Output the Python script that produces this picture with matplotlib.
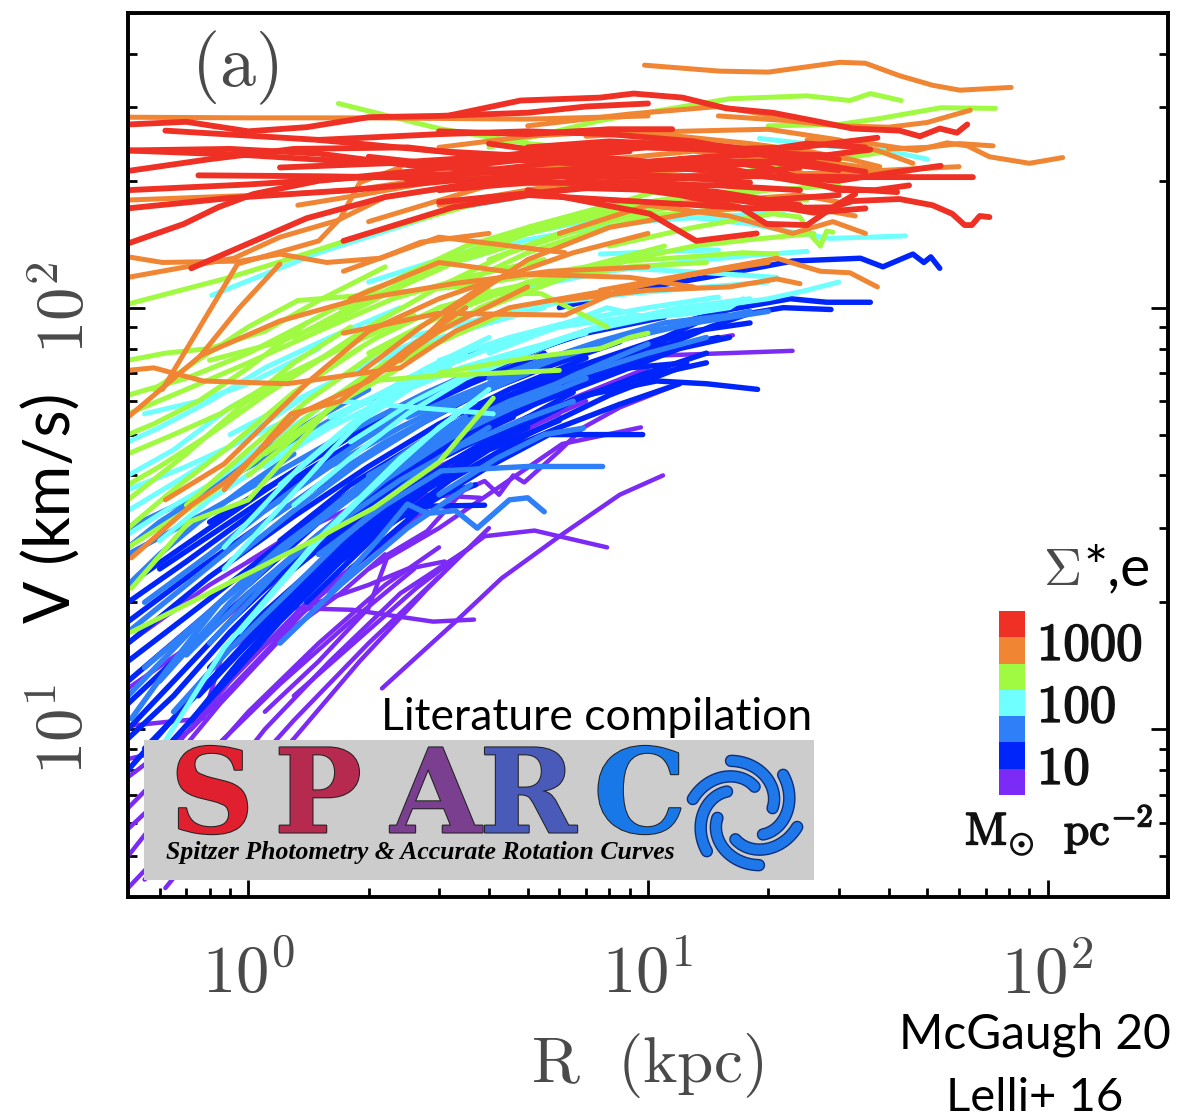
#!/usr/bin/env python3

import numpy as np
import matplotlib
from matplotlib import pyplot as plt
from matplotlib import patheffects as pe
from matplotlib.colors import ListedColormap

matplotlib.use("Agg")

plt.rcParams["mathtext.fontset"] = "cm"

# rotation curves: (R in kpc, V in km/s), one list per surface density bin
PURPLE_CURVES = [
    ([2.16, 3.3, 4.3, 6.1, 8.5, 10.9], [12.5, 18, 22.8, 29, 36, 40]),
    ([1.3, 2.63, 3.9, 5.2, 7.9], [12, 21.6, 28.7, 29.6, 27]),
    ([0.9, 1.23, 1.82, 2.9, 3.67], [17, 19.4, 19.2, 18, 18.2]),
    ([0.95, 1.45, 2, 2.5, 3.1], [14, 19.8, 22, 24, 25]),
    ([1.1, 1.5, 2, 2.24, 2.8, 3.45, 3.9, 4.24, 4.6, 4.9, 6, 6.9, 8.5, 11.5],
     [11, 14.5, 19.4, 26, 29.5, 36.8, 38.8, 36, 40, 38.5, 45.7, 52, 58, 65]),
    ([2, 3, 4.5, 6.1, 9.6], [24, 30, 39, 47.5, 52]),
    ([5, 7, 10.7, 23], [60, 70, 77, 79]),
    ([6, 10, 13, 16.3], [62, 76, 83, 86]),
    ([1.8, 2.75, 3.8], [26, 36, 35.4]),
    ([0.5, 0.7, 1, 1.5, 2.2, 3], [5, 7.5, 11, 16, 22, 27]),
    ([0.5, 0.75, 1.1, 1.6, 2.4, 3.6], [4.2, 6.3, 10, 14.5, 21, 27]),
    ([0.5, 0.8, 1.2, 1.8, 2.6], [5.8, 8.8, 12.8, 18, 24]),
    ([0.55, 0.85, 1.3, 2, 3], [4.4, 6.7, 10.5, 16, 23]),
    ([0.5, 0.62, 0.85, 1.25, 1.7, 2.2], [6.5, 8, 11.5, 17, 21, 26]),
    ([0.5, 0.72, 1.05, 1.45, 2], [7.7, 10, 14.5, 20, 26]),
    ([0.5, 0.65, 0.9, 1.4, 2, 2.8], [8.5, 9, 13, 20, 26, 33]),
    ([0.62, 0.9, 1.3, 1.9, 2.8, 4], [4.2, 6.5, 9.5, 14.5, 21.5, 30]),
    ([0.51, 0.62, 0.77, 0.86, 1.2], [10.2, 10.4, 10.6, 15, 19]),
    ([0.5, 0.8, 1.3, 2, 3, 4.5, 7], [16, 22, 29, 35, 42, 50, 60]),
    ([0.5, 0.8, 1.2, 2, 3.5, 6], [12.5, 17, 24, 32, 44, 56]),
    ([0.7, 1, 1.5, 2.5, 4, 6.5, 10], [14, 20, 27, 36, 47, 61, 72]),
    ([1, 1.6, 2.6, 4, 7, 12], [25, 33, 44, 55, 70, 80]),
]

BLUE_CURVES = [
    ([6, 9, 14, 23, 34, 38.7, 46, 49, 51, 53.7], [100, 110, 118, 129, 131, 125, 134, 128, 132, 124]),
    ([12, 16, 22.7, 28, 36], [92, 99, 105, 103, 103]),
    ([4, 7, 10, 14.3, 18, 21.8, 28.7], [55, 68, 78, 90, 97, 100, 99]),
    ([3, 6, 11, 16], [50, 70, 85, 100]),
    ([3, 5, 7.6, 12.5], [48, 60, 71, 74]),
    ([4, 7, 10.5, 14, 18.8], [50, 62, 67, 66, 64]),
    ([2.5, 4, 5.65, 9.7], [32, 42, 50, 50]),
    ([1.8, 2.75, 3.9], [24, 33.8, 34]),
    ([0.5, 0.75, 1.1, 1.6, 2.3, 3.3], [10, 15, 22, 30, 39, 46]),
    ([0.5, 0.7, 1, 1.5, 2.2, 3.2, 4.6], [11.5, 15.5, 21, 29, 38, 47, 55]),
    ([0.5, 0.8, 1.2, 1.8, 2.8, 4.2], [13, 19, 27, 36, 47, 58]),
    ([0.5, 0.7, 1, 1.4, 2, 3, 4.4, 6.5], [14.5, 18.5, 24, 31, 39, 50, 60, 70]),
    ([0.5, 0.8, 1.3, 2, 3, 4.5, 7], [16, 23, 32, 42, 53, 64, 76]),
    ([0.5, 0.75, 1.1, 1.7, 2.5, 3.7, 5.5, 8.5], [18, 24, 31, 41, 51, 62, 72, 83]),
    ([0.5, 0.7, 1, 1.6, 2.4, 3.6, 5.5], [20, 25, 32, 44, 55, 66, 78]),
    ([0.5, 0.8, 1.2, 1.9, 3, 4.5, 7, 11], [22, 30, 39, 51, 63, 75, 88, 96]),
    ([0.6, 0.9, 1.4, 2.2, 3.4, 5, 8, 13], [24, 31, 41, 53, 66, 78, 92, 100]),
    ([0.8, 1.2, 1.8, 2.8, 4.5, 7, 11], [31, 39, 50, 62, 76, 87, 95]),
    ([0.9, 1.4, 2.2, 3.4, 5, 8], [21, 30, 41, 52, 61, 72]),
    ([0.75, 1, 1.4, 2, 2.8, 3.8, 5], [12, 16, 22, 30, 38, 46, 52]),
    ([0.62, 0.85, 1.2, 1.7, 2.3, 3, 3.7], [9, 12.5, 18, 25, 31, 36, 38]),
    ([0.55, 0.8, 1.1, 1.5, 2, 2.7], [9, 13, 18, 24, 29, 34]),
    ([0.8, 1.1, 1.6, 2.3, 3.2, 4.5, 6.5], [14, 19, 26, 34, 43, 52, 63]),
    ([1, 1.5, 2.2, 3.3, 5, 7.5, 11], [22, 31, 41, 52, 64, 73, 82]),
    ([1.2, 1.8, 2.7, 4, 6, 9, 13, 18], [28, 38, 48, 59, 70, 79, 88, 92]),
    ([1.5, 2.2, 3.2, 4.6, 6.5, 9.5, 14], [26, 34, 43, 51, 60, 69, 78]),
    ([1.1, 1.5, 2, 2.8, 4, 6], [17, 23, 29, 37, 46, 54]),
    ([2, 3, 4.5, 6.5, 9, 12, 16], [38, 47, 56, 64, 72, 80, 85]),
    ([2.5, 3.5, 5, 7, 10, 14], [40, 47, 55, 62, 69, 74]),
    ([3, 4.2, 6, 8.5, 12], [38, 45, 52, 59, 66]),
    ([0.72, 0.95, 1.3, 1.8], [10.5, 14.5, 20, 27]),
    ([1.48, 1.79], [24, 28]),
    ([0.5, 0.7, 1, 1.4], [8, 11.5, 16, 22]),
    ([0.5, 0.65, 0.9, 1.3, 1.9, 2.8], [9.5, 12, 17, 24, 32, 41]),
    ([0.9, 1.3, 2, 3, 4.5, 7, 10], [18, 25, 35, 46, 56, 68, 75]),
    ([1.3, 2, 3, 4.5, 7, 11, 15], [24, 34, 44, 55, 68, 80, 85]),
    ([1.4, 2.1, 3.2, 5, 8, 12], [20, 29, 39, 50, 62, 72]),
]

MIDBLUE_CURVES = [
    ([0.5, 0.8, 1.3, 2, 3, 4.6, 7], [12, 19, 28, 38, 48, 58, 68]),
    ([0.5, 0.7, 1, 1.5, 2.2, 3.3, 5], [17, 22, 29, 38, 48, 59, 70]),
    ([0.5, 0.8, 1.2, 1.8, 2.8, 4.4, 7, 11], [26, 33, 41, 51, 63, 76, 88, 96]),
    ([0.5, 0.75, 1.1, 1.6, 2.4, 3.6, 5.4], [30, 36, 44, 54, 66, 78, 88]),
    ([0.6, 0.9, 1.3, 1.9, 2.8, 4, 6], [13, 20, 28, 37, 47, 56, 66]),
    ([0.7, 1, 1.5, 2.2, 3.2, 4.5, 6.5, 10], [15, 21, 29, 39, 49, 58, 69, 82]),
    ([0.9, 1.3, 1.9, 2.8, 4, 5.5], [25, 33, 43, 54, 65, 74]),
    ([1.1, 1.6, 2.4, 3.5, 5, 7.5, 11, 16], [33, 42, 52, 62, 73, 83, 92, 96]),
    ([1.5, 2.2, 3.04, 5, 7.7], [26, 34, 41, 42, 42]),
    ([1.6, 2.1, 2.5, 2.8, 3.3, 3.74, 4.5, 5, 5.5], [21, 28, 34.2, 32.5, 33, 30, 35, 35.4, 32.8]),
    ([3, 4.2, 5.5, 6.9], [36, 44, 50, 51.8]),
    ([0.51, 0.62, 0.85, 1.2, 1.8], [10.6, 13.7, 20, 27, 36]),
    ([0.8, 1.2, 1.7], [16, 24, 32]),
    ([2, 3, 4.5, 7, 10, 14], [40, 50, 60, 70, 78, 85]),
    ([2.5, 4, 6, 9, 13, 20], [55, 66, 76, 86, 92, 98]),
    ([4, 6, 9, 13, 18], [68, 77, 85, 92, 98]),
    ([1.6, 2.4, 3.4, 4.8, 6.5], [30, 39, 47, 54, 60]),
    ([1.2, 1.7, 2.5, 3.6], [16, 22, 30, 38]),
    ([0.55, 0.8, 1.1, 1.6, 2.3, 3.2], [20, 26, 33, 43, 54, 65]),
    ([0.55, 0.75, 1, 1.4, 1.9, 2.6, 3.5], [14, 18, 23, 30, 38, 47, 55]),
    ([0.65, 0.9, 1.25, 1.7, 2.3, 3, 4], [11, 15.5, 21, 28, 36, 44, 52]),
    ([0.5, 0.6, 0.75, 1, 1.3], [22, 26, 31, 38, 45]),
    ([0.5, 0.6, 0.8, 1.1, 1.5, 2], [27, 31, 37, 46, 55, 64]),
]

CYAN_CURVES = [
    ([0.62, 0.87, 1.48, 2.4, 4], [9.4, 15.6, 28, 44, 64]),
    ([0.87, 1.34, 2.15, 3.2], [27, 41.7, 61, 72]),
    ([0.87, 1.64, 2.4, 3.5], [24, 46.5, 67, 78]),
    ([1.7, 2.6, 4.1], [60, 58, 56]),
    ([0.81, 1.5, 3.3, 6], [107, 135, 172, 190]),
    ([12, 18, 24, 28.5, 36, 44], [165, 158, 150, 146, 147, 148]),
    ([19, 28, 39.5, 50], [252, 242, 236, 225]),
    ([7, 12, 20, 25, 30], [88, 98, 105, 110, 115]),
    ([4, 7.9, 10, 13, 16, 17.3], [78, 100, 94.7, 97, 100, 105]),
    ([7.6, 11, 15], [134, 136, 137]),
    ([8.9, 14, 21], [124, 121, 118]),
    ([0.5, 0.7, 1, 1.4, 2, 3], [33, 40, 50, 62, 74, 88]),
    ([0.5, 0.65, 0.9, 1.3, 1.9], [40, 46, 58, 70, 85]),
    ([0.5, 0.6, 0.8, 1.1, 1.6, 2.4], [48, 52, 60, 72, 85, 100]),
    ([0.55, 0.75, 1, 1.5], [56, 60, 66, 80]),
    ([0.6, 0.8, 1.2, 1.8, 2.8, 4], [28, 35, 45, 57, 72, 85]),
    ([3, 4.5, 6.5, 10, 15], [75, 85, 93, 100, 106]),
    ([2.5, 4, 6, 9, 14, 20], [85, 95, 103, 108, 112, 115]),
    ([1.6, 2.5, 4, 6, 9], [55, 67, 80, 90, 95]),
    ([5, 8, 12, 18, 25], [112, 122, 128, 133, 136]),
    ([3.5, 5, 7.5, 11, 16, 22], [130, 145, 155, 162, 165, 170]),
    ([2, 3, 5, 8, 12], [115, 130, 150, 165, 175]),
    ([0.9, 1.3, 1.9, 2.8, 4, 5.5], [50, 60, 72, 83, 92, 100]),
    ([1.1, 1.6, 2.4, 3.4, 5, 7], [42, 52, 63, 72, 80, 87]),
    ([0.5, 0.62, 0.8, 1.05, 1.4, 2], [29, 33, 38, 46, 55, 70]),
    ([0.5, 0.7, 0.95, 1.3], [37, 42, 48, 55]),
    ([1.3, 1.8, 2.5, 3.5, 5, 7.5, 11], [34, 44, 56, 68, 78, 90, 98]),
    ([1.8, 2.6, 3.8, 5.5, 8, 12, 18], [48, 60, 72, 82, 92, 100, 105]),
    ([0.95, 1.2, 1.5, 1.9, 2.4, 3, 3.7], [17, 22, 28, 35, 43, 52, 60]),
    ([1.2, 1.7, 2.4, 3.2], [38, 50, 62, 74]),
]

GREEN_CURVES = [
    ([1.68, 3, 5, 8], [305, 266, 245, 235]),
    ([4, 5.5, 7.6, 16, 25, 32, 36, 43], [240, 258, 278, 313, 318, 310, 322, 310]),
    ([20, 30, 38, 54, 74], [270, 272, 281, 298, 297]),
    ([8, 13, 20.5, 24, 25.8, 27, 28, 29], [140, 155, 167, 164, 147, 140, 152, 151]),
    ([3, 5, 8.9, 12.7, 17.3, 21], [95, 115, 129, 132, 135, 134]),
    ([0.5, 0.9, 1.35, 2, 4, 7, 11], [102, 118, 133, 150, 180, 195, 205]),
    ([0.58, 1, 1.33, 2.2, 3.6, 7, 11], [64, 90, 104, 108, 113, 125, 140]),
    ([2, 3, 6], [67, 69, 71]),
    ([0.51, 1.45, 2.06, 3, 4.1], [17, 28, 33.5, 43, 61]),
    ([0.51, 0.71, 1, 1.6, 2.4], [21.6, 31, 35, 58, 72]),
    ([0.5, 0.7, 1, 1.5, 2.2, 3.2], [27, 33, 42, 58, 74, 85]),
    ([0.5, 0.65, 0.85, 1.2, 1.8, 2.6], [45, 50, 56, 68, 82, 96]),
    ([0.5, 0.7, 1, 1.5, 2.3, 3.5, 5.5], [56, 64, 74, 88, 105, 118, 130]),
    ([0.5, 0.7, 1, 1.4, 2, 3, 4.5], [62, 68, 78, 92, 110, 125, 140]),
    ([0.5, 0.62, 0.8, 1.1, 1.5, 2.2], [75, 78, 80, 88, 104, 125]),
    ([0.8, 1.2, 1.7, 2.4, 3.4, 5], [75, 83, 95, 112, 130, 150]),
    ([1, 1.4, 2, 3, 4.5, 7, 10], [60, 72, 90, 112, 135, 155, 170]),
    ([1.3, 1.8, 2.6, 3.8, 5.5, 8, 12], [85, 100, 118, 138, 155, 170, 180]),
    ([1.7, 2.4, 3.5, 5, 7.5, 11, 16], [100, 118, 140, 155, 172, 180, 188]),
    ([2.5, 3.5, 5, 7.5, 12, 18, 25], [115, 135, 150, 165, 175, 180, 180]),
    ([1.1, 1.5, 2.2, 3.2, 4.5], [45, 55, 72, 85, 98]),
    ([3, 4.5, 6.5, 9, 13, 18, 26], [90, 105, 120, 130, 140, 145, 150]),
    ([4, 6, 9, 13, 20, 30], [130, 150, 165, 178, 190, 195]),
    ([5, 8, 13, 20, 30, 40], [155, 175, 200, 215, 225, 235]),
    ([3, 4.2, 5.4, 7.9], [100, 108, 108, 90]),
    ([3, 5, 7.6, 9, 10], [70, 76, 80, 85, 87]),
    ([0.5, 0.65, 0.9, 1.3, 1.9], [30, 37, 47, 63, 80]),
    ([0.5, 0.6, 0.8, 1.1, 1.5, 2.1], [38, 42, 50, 62, 75, 90]),
    ([0.5, 0.7, 0.95, 1.3, 1.8], [35, 45, 58, 74, 90]),
    ([0.5, 0.58, 0.75, 1, 1.4], [50, 53, 60, 72, 92]),
    ([0.7, 1, 1.4, 2, 2.8, 4], [34, 46, 60, 76, 92, 110]),
    ([1, 1.4, 2, 2.8, 3.8, 5], [40, 52, 68, 84, 100, 112]),
    ([1.5, 2.1, 3, 4.2, 6, 8.5], [70, 85, 100, 110, 118, 125]),
    ([2, 2.8, 4, 6, 9, 14], [78, 92, 108, 118, 125, 128]),
    ([2.8, 4, 5.5, 8, 12, 18], [125, 142, 158, 172, 183, 190]),
    ([3.5, 5, 7, 10, 14, 20], [115, 135, 150, 165, 170, 172]),
]

ORANGE_CURVES = [
    ([9.8, 15.1, 20, 30.2, 35, 42.6, 51.5, 60.3, 81], [376, 364, 362, 382, 380, 355, 337, 328, 333]),
    ([25, 36, 47, 56, 63, 71.5, 90, 109], [250, 245, 236, 246, 242, 228, 220, 227]),
    ([15, 22, 30, 40, 50, 57, 64], [285, 278, 270, 268, 275, 285, 294]),
    ([40, 50, 60, 73], [238, 240, 245, 242]),
    ([15, 25, 40, 60], [205, 208, 212, 216]),
    ([10, 16, 23, 29, 35], [175, 165, 150, 160, 150]),
    ([7.6, 14, 21, 27, 32, 37.5], [110, 122, 131, 122, 121, 112]),
    ([6, 10, 16, 21, 24], [104, 110, 112, 117, 114]),
    ([0.5, 0.61, 0.96, 1.2, 1.57, 2.14, 2.7, 4], [132, 128, 129, 134, 128, 131, 143, 150]),
    ([0.5, 0.92, 1.2, 1.67, 2.2, 3.5], [118, 131, 147, 161, 183, 195]),
    ([0.61, 0.94, 1.5, 1.7, 1.9, 2.4], [64, 127, 144, 163, 198, 215]),
    ([0.76, 1.2, 1.83, 3.25, 5.7, 10], [77, 93, 104, 114, 122, 125]),
    ([0.5, 0.58, 0.77, 1.25, 2.4, 3.3, 4.5, 8], [71, 72, 67, 66, 72, 88, 100, 110]),
    ([0.5, 1, 2, 5, 10], [283, 282, 282, 280, 285]),
    ([0.5, 1.25, 1.83, 4, 8], [180, 186, 190, 212, 220]),
    ([1.33, 1.9, 3, 5], [175, 185, 200, 215]),
    ([0.51, 0.72, 0.89, 1.34, 2, 3, 5], [25.5, 34, 39, 56, 67, 88, 112]),
    ([0.62, 0.87, 1.42, 2, 3, 4.5], [35, 42.6, 67, 88, 105, 120]),
    ([0.87, 1.28, 1.7, 2.5, 3.5], [37, 56, 60, 80, 100]),
    ([0.5, 0.76, 0.95, 1.2], [55, 77, 100, 127]),
    ([1.73, 3, 6.2], [122, 147, 135]),
    ([1.73, 3, 6.2, 8.5, 13, 20], [87, 97, 96, 110, 120, 128]),
    ([1.8, 3, 5, 9, 13], [105, 128, 120, 118, 112]),
    ([1.9, 2.7, 4, 6.5, 10], [70, 90, 115, 135, 150]),
    ([2.4, 3.3, 5, 8, 13, 20], [75, 100, 130, 155, 168, 175]),
    ([3, 5, 8, 14, 25, 35, 45], [175, 190, 205, 215, 225, 215, 205]),
    ([3, 5, 8, 12, 18, 25, 32, 38], [240, 255, 262, 255, 245, 235, 225, 216]),
    ([4, 7, 11, 18, 26, 33], [196, 198, 190, 180, 172, 165]),
    ([6, 10, 16, 24, 30], [150, 175, 180, 185, 178]),
    ([7, 12, 20, 30, 38, 46], [255, 262, 265, 250, 235, 220]),
    ([5, 9, 15, 22, 28], [270, 288, 300, 282, 272]),
    ([2, 4, 8, 13, 20, 27], [160, 195, 225, 235, 225, 200]),
]

RED_CURVES = [
    ([0.5, 0.7, 1, 1.4, 2, 3, 5, 7, 10], [272, 276, 262, 268, 283, 285, 290, 300, 305]),
    ([3.2, 4.8, 7.6, 9.2, 12.2, 15.7, 20.5, 25.8, 32.5, 42.6, 47.9, 53.7, 59.3, 62.9],
     [286, 310, 315, 322, 315, 297, 290, 278, 266, 263, 255, 266, 260, 272]),
    ([5, 10, 18, 29, 32.5, 42.6, 51.5, 57.7, 62, 64.6, 67.6, 71.5],
     [185, 178, 172, 173, 179, 181, 175, 167, 157, 157, 165, 164]),
    ([5, 10.1, 13.2, 18.7], [190, 167, 144, 150]),
    ([8, 12, 17, 19.8, 25, 29, 33], [195, 185, 173, 158, 157, 173, 186]),
    ([10, 20, 35, 50, 65], [205, 205, 204, 204, 204]),
    ([12, 20, 30, 42, 54], [225, 205, 200, 210, 217]),
    ([14, 20, 25, 30, 37, 45], [225, 215, 200, 190, 190, 195]),
    ([10, 16, 24, 37.5], [240, 238, 240, 253]),
    ([12, 20, 28, 36], [225, 232, 230, 237]),
    ([3, 5, 8, 11.5], [262, 258, 265, 265]),
    ([0.5, 0.69, 0.84, 1.03, 1.5, 2.5, 5, 9], [142, 158, 173, 186, 200, 210, 225, 235]),
    ([0.72, 1.4, 2.2, 3.5, 6, 10], [124, 163, 183, 196, 205, 210]),
    ([1.73, 3.25, 6, 10, 15], [144, 173, 190, 200, 205]),
    ([0.62, 1.5, 3, 7, 15, 25], [263, 250, 235, 225, 210, 200]),
    ([0.75, 1.5, 3, 6, 15, 24], [206, 205, 203, 198, 195, 190]),
    ([0.5, 0.9, 1.5, 2.5, 4.5, 8, 14, 24], [236, 238, 232, 218, 210, 204, 205, 215]),
    ([0.5, 0.8, 1.3, 2.5, 4.5, 9, 16], [211, 225, 238, 240, 225, 215, 212]),
    ([0.5, 1, 1.8, 3, 6, 12, 20, 30], [190, 196, 203, 207, 212, 222, 222, 212]),
    ([0.5, 0.9, 1.8, 3.2, 6, 11, 18], [172, 182, 190, 200, 208, 205, 198]),
    ([0.5, 1, 1.8, 3, 5.5, 10, 18, 30], [236, 230, 222, 218, 230, 240, 235, 215]),
    ([1.2, 2.2, 4, 7, 12, 20, 30], [215, 220, 228, 240, 248, 235, 225]),
    ([1.5, 3, 5, 8, 13, 22, 35], [250, 258, 262, 258, 248, 225, 210]),
    ([2, 3.5, 6, 10, 16, 26], [228, 215, 208, 212, 218, 225]),
    ([2.5, 4, 7, 12, 20, 30, 42], [200, 212, 225, 218, 205, 192, 188]),
    ([3, 5, 9, 15, 24], [190, 198, 198, 188, 175]),
    ([3, 4.5, 7, 11, 18, 26, 35], [178, 185, 192, 190, 178, 168, 172]),
    ([4, 6, 10, 16, 25, 35], [245, 232, 222, 230, 245, 240]),
    ([5, 8, 13, 20, 30], [212, 196, 188, 180, 185]),
    ([5, 8, 14, 22], [240, 248, 242, 230]),
]

CURVE_SETS = [PURPLE_CURVES, BLUE_CURVES, MIDBLUE_CURVES, CYAN_CURVES,
              GREEN_CURVES, ORANGE_CURVES, RED_CURVES]

# lowest to highest surface density
BIN_COLORS = ["#7B2BF5", "#0025FA", "#2F80F8", "#70FFFF", "#A0FA42", "#F08533", "#EE3124"]
LINE_WIDTHS = [3.2, 3.9, 3.9, 3.6, 3.6, 3.6, 4.2]

X_TICKS = [1, 10, 100]
X_TICK_LABELS = [r"$10^{0}$", r"$10^{1}$", r"$10^{2}$"]
Y_TICKS = [10, 100]
Y_TICK_LABELS = [r"$10^{1}$", r"$10^{2}$"]

CBAR_LABELS = ["1000", "100", "10"]
GRAY = "#4a4a4a"

W, H = 1178, 1118


def px(x, y):
    return x / W, 1 - y / H


fig = plt.figure(figsize=(W / 100, H / 100), dpi=100)
ax = fig.add_axes([128 / W, 1 - 897 / H, 1040 / W, 884 / H])

for curves, color, lw in zip(CURVE_SETS, BIN_COLORS, LINE_WIDTHS):
    for r, v in curves:
        ax.plot(r, v, color=color, lw=lw, solid_capstyle="round", solid_joinstyle="round")

ax.set_xscale("log")
ax.set_yscale("log")
ax.set_xlim(0.5, 200)
ax.set_ylim(4, 500)

ax.set_xticks(X_TICKS)
ax.set_xticklabels(X_TICK_LABELS, fontsize=48, color=GRAY)
ax.set_yticks(Y_TICKS)
ax.set_yticklabels(Y_TICK_LABELS, fontsize=48, color=GRAY, rotation=90, va="center")
ax.tick_params(which="major", direction="in", length=12, width=2, right=True)
ax.tick_params(axis="x", which="major", pad=32)
ax.tick_params(axis="y", which="major", pad=22)
ax.tick_params(which="minor", direction="in", length=6.5, width=2, right=True, labelleft=False, labelbottom=False)
for spine in ax.spines.values():
    spine.set_linewidth(2.8)

fig.text(*px(235, 68), r"$\mathrm{(a)}$", fontsize=52, color=GRAY, ha="center", va="center")
fig.text(*px(647, 1065), r"$\mathrm{R\ \ (kpc)}$", fontsize=47, color=GRAY, ha="center", va="center")
fig.text(*px(52, 508), "V (km/s)", fontsize=45, color="black", family="Lato", rotation=90, ha="center", va="center")
fig.text(*px(597, 718), "Literature compilation", fontsize=32, color="black", family="Lato", ha="center", va="center")
fig.text(*px(1035, 1035), "McGaugh 20", fontsize=34.5, color="black", family="Lato", ha="center", va="center")
fig.text(*px(1035, 1098), "Lelli+ 16", fontsize=34, color="black", family="Lato", ha="center", va="center")

# surface density key
fig.text(*px(1062, 570), r"$\Sigma$", fontsize=38, color=GRAY, ha="center", va="center")
fig.text(*px(1117, 570), "*,e", fontsize=41, color="black", family="Lato", ha="center", va="center")
cax = fig.add_axes([999 / W, 1 - 795 / H, 26 / W, 184 / H])
cax.imshow(np.arange(len(BIN_COLORS))[::-1].reshape(-1, 1), cmap=ListedColormap(BIN_COLORS), aspect="auto")
cax.axis("off")
bold = [pe.withStroke(linewidth=1.2, foreground="#111111")]
for label, y in zip(CBAR_LABELS, [645, 707, 769]):
    fig.text(*px(1037, y), rf"$\mathrm{{{label}}}$", fontsize=38, color="#111111", ha="left", va="center",
             path_effects=bold)
fig.text(*px(1059, 830), r"$\mathrm{M_{\odot}\ \ pc^{-2}}$", fontsize=33, color="#111111", ha="center", va="center",
         path_effects=bold)

# SPARC logo, axes units are picture pixels
logo = fig.add_axes([144 / W, 1 - 880 / H, 670 / W, 140 / H], zorder=2, facecolor="#cccccc")
logo.set_xlim(144, 814)
logo.set_ylim(880, 740)
logo.set_xticks([])
logo.set_yticks([])
for spine in logo.spines.values():
    spine.set_visible(False)

LOGO_LETTERS = ["S", "P", "A", "R", "C"]
LOGO_X = [212, 318, 436, 528, 640]
LOGO_COLORS = ["#E0202F", "#B62A50", "#7A3F8F", "#4A5AB8", "#1878E8"]
outline = [pe.withStroke(linewidth=1.5, foreground="#222222")]
for letter, x, color in zip(LOGO_LETTERS, LOGO_X, LOGO_COLORS):
    logo.text(x, 800, letter, fontsize=84, color=color, family="DejaVu Serif", fontweight="bold",
              ha="center", va="center", path_effects=outline)
logo.text(420, 853, "Spitzer Photometry & Accurate Rotation Curves", fontsize=18.5, color="black",
          family="Liberation Serif", fontweight="bold", style="italic", ha="center", va="center")

# six curled arms of the swirl
swirl_fx = [pe.withStroke(linewidth=9, foreground="#0b2f7a")]
for a0 in np.deg2rad(np.arange(0, 360, 60) + 15):
    t = np.linspace(0, 1, 30)
    ang = a0 + t * np.deg2rad(95)
    rad = 54 - 26 * t
    logo.plot(745 + rad * np.cos(ang), 813 + rad * np.sin(ang), color="#1f78ea", lw=7,
              solid_capstyle="round", path_effects=swirl_fx)

plt.savefig("out.png", dpi=100)
print("Saved out.png")
